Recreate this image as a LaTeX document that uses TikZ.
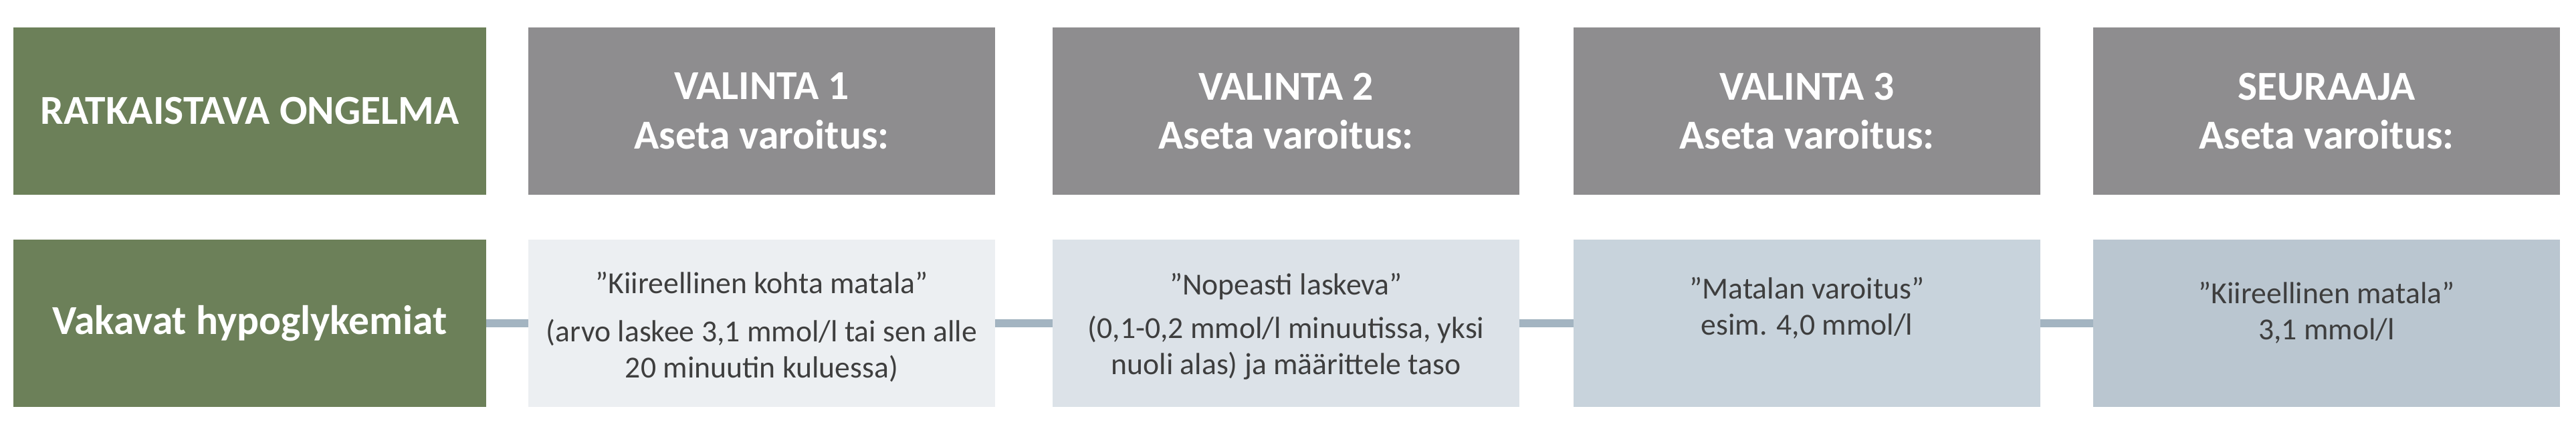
\documentclass[tikz,border=0pt]{standalone}
\usepackage{fontspec}
\setmainfont{Carlito}
\usetikzlibrary{positioning}

\definecolor{probgreen}{RGB}{108,128,89}
\definecolor{headgray}{RGB}{142,141,143}
\definecolor{cardA}{RGB}{236,239,242}
\definecolor{cardB}{RGB}{220,226,232}
\definecolor{cardC}{RGB}{200,211,220}
\definecolor{cardD}{RGB}{186,198,208}
\definecolor{linkblue}{RGB}{163,180,193}
\definecolor{textgray}{RGB}{62,62,62}

\begin{document}
\begin{tikzpicture}[
	node distance=0.67cm,
	every node/.style={inner sep=0pt, outer sep=0pt},
	head/.style={
		rectangle, fill=headgray, text=white,
		font=\fontsize{17.5}{21}\selectfont\bfseries,
		minimum width=6.98cm, minimum height=2.5cm, align=center
	},
	problem/.style={head, fill=probgreen, minimum width=7.07cm},
	card/.style={rectangle, minimum width=6.98cm, minimum height=2.5cm},
	note/.style={text=textgray, font=\fontsize{13}{15.5}\selectfont, align=center},
	link/.style={draw=linkblue, line width=3.2pt}
	]
	\useasboundingbox (0,0) rectangle (38.52,-6.34);
	
	% Header row
	\node[problem] (prob-head) at (3.735,-1.66) {RATKAISTAVA ONGELMA};
	\node[head, right=0.63cm of prob-head] (opt1-head) {VALINTA 1\\ Aseta varoitus:};
	\node[head, right=0.86cm of opt1-head] (opt2-head) {VALINTA 2\\ Aseta varoitus:};
	\node[head, right=0.81cm of opt2-head] (opt3-head) {VALINTA 3\\ Aseta varoitus:};
	\node[head, right=0.79cm of opt3-head] (next-head) {SEURAAJA\\ Aseta varoitus:};
	
	% Bottom row
	\node[problem, below=of prob-head] (prob) {Vakavat hypoglykemiat};
	\node[card, fill=cardA, below=of opt1-head] (opt1) {};
	\node[card, fill=cardB, below=of opt2-head] (opt2) {};
	\node[card, fill=cardC, below=of opt3-head] (opt3) {};
	\node[card, fill=cardD, below=of next-head] (next) {};
	
	% Texts in the cards
	\node[note, below=0.48cm of opt1.north] (opt1-text) {”Kiireellinen kohta matala”\\[5pt] (arvo laskee 3,1 mmol/l tai sen alle\\ 20 minuutin kuluessa)};
	\node[note, below=0.50cm of opt2.north] (opt2-text) {”Nopeasti laskeva”\\[3pt] (0,1-0,2 mmol/l minuutissa, yksi\\ nuoli alas) ja määrittele taso};
	\node[note, below=0.56cm of opt3.north] (opt3-text) {”Matalan varoitus”\\ esim. 4,0 mmol/l};
	\node[note, below=0.63cm of next.north] (next-text) {”Kiireellinen matala”\\ 3,1 mmol/l};
	
	% Links
	\draw[link] (prob) -- (opt1);
	\draw[link] (opt1) -- (opt2);
	\draw[link] (opt2) -- (opt3);
	\draw[link] (opt3) -- (next);
\end{tikzpicture}
\end{document}
